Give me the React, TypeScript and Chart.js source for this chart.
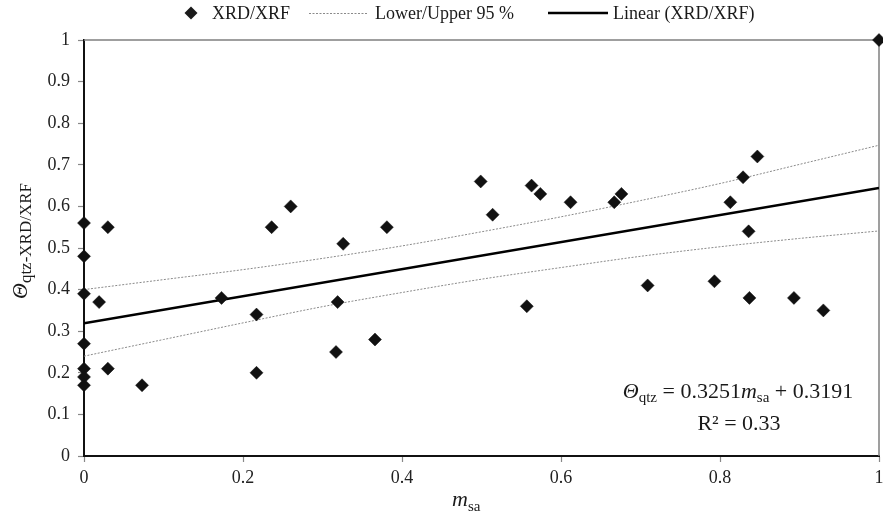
import React, { useEffect, useRef } from 'react';
import { Chart, registerables } from 'chart.js';

Chart.register(...registerables);

// Sand-quartz fraction vs. XRD/XRF quartz content
const msa = [
  0, 0, 0, 0, 0, 0, 0,
  0.019, 0.03, 0.03, 0.073,
  0.173, 0.217, 0.217, 0.236, 0.26,
  0.319, 0.317, 0.326, 0.366, 0.381,
  0.499, 0.514, 0.557, 0.563, 0.574, 0.612,
  0.667, 0.676, 0.709,
  0.793, 0.813, 0.829, 0.836, 0.837, 0.847,
  0.893, 0.93, 1,
];
const thetaQtz = [
  0.56, 0.48, 0.39, 0.27, 0.21, 0.19, 0.17,
  0.37, 0.55, 0.21, 0.17,
  0.38, 0.34, 0.2, 0.55, 0.6,
  0.37, 0.25, 0.51, 0.28, 0.55,
  0.66, 0.58, 0.36, 0.65, 0.63, 0.61,
  0.61, 0.63, 0.41,
  0.42, 0.61, 0.67, 0.54, 0.38, 0.72,
  0.38, 0.35, 1.0,
];

// Linear trend line (slope / intercept as printed)
const slope = 0.3251;
const intercept = 0.3191;
const rSquared = '0.33';
const fitX = [0, 1];

// 95 % confidence band
const bandX = [0, 0.1, 0.2, 0.3, 0.4, 0.5, 0.6, 0.7, 0.8, 0.9, 1];
const upper95 = [0.4, 0.424, 0.448, 0.475, 0.505, 0.539, 0.575, 0.614, 0.655, 0.701, 0.747];
const lower95 = [0.24, 0.28, 0.32, 0.359, 0.393, 0.425, 0.453, 0.48, 0.503, 0.523, 0.541];

const xStep = 0.2;
const yStep = 0.1;

const SERIF = '"Liberation Serif", "Times New Roman", serif';

type Seg = { text: string; size: number; italic?: boolean; dy?: number };

function segFont(s: Seg) {
  return `${s.italic ? 'italic ' : ''}${s.size}px ${SERIF}`;
}

function measureSegs(ctx: CanvasRenderingContext2D, segs: Seg[]) {
  let w = 0;
  for (const s of segs) {
    ctx.font = segFont(s);
    w += ctx.measureText(s.text).width;
  }
  return w;
}

function drawSegs(ctx: CanvasRenderingContext2D, segs: Seg[], x: number, y: number) {
  let cx = x;
  for (const s of segs) {
    ctx.font = segFont(s);
    ctx.fillText(s.text, cx, y + (s.dy || 0));
    cx += ctx.measureText(s.text).width;
  }
}

// tick values as plain decimals: 0, 0.1, ..., 1
const fmtTick = (v: number | string) => String(Number(Number(v).toFixed(1)));

const decorPlugin = {
  id: 'decor',
  beforeDatasetsDraw(chart: any) {
    const { ctx, chartArea: a } = chart;
    ctx.save();
    ctx.strokeStyle = '#808080';
    ctx.lineWidth = 1.5;
    ctx.beginPath();
    ctx.moveTo(a.left, a.top);
    ctx.lineTo(a.right, a.top);
    ctx.lineTo(a.right, a.bottom);
    ctx.stroke();
    ctx.restore();
  },
  afterDraw(chart: any) {
    const { ctx } = chart;
    ctx.save();
    ctx.fillStyle = '#1a1a1a';
    ctx.textAlign = 'left';
    ctx.textBaseline = 'alphabetic';

    // legend
    const ly = 13;
    ctx.beginPath();
    ctx.moveTo(191, ly - 6.5);
    ctx.lineTo(197.5, ly);
    ctx.lineTo(191, ly + 6.5);
    ctx.lineTo(184.5, ly);
    ctx.closePath();
    ctx.fill();
    ctx.font = `18px ${SERIF}`;
    ctx.fillText('XRD/XRF', 212, ly + 6);

    ctx.strokeStyle = '#8a8a8a';
    ctx.lineWidth = 1;
    ctx.setLineDash([2, 1.5]);
    ctx.beginPath();
    ctx.moveTo(309, ly + 0.5);
    ctx.lineTo(367, ly + 0.5);
    ctx.stroke();
    ctx.setLineDash([]);
    ctx.fillText('Lower/Upper 95 %', 375, ly + 6);

    ctx.strokeStyle = '#000';
    ctx.lineWidth = 2.5;
    ctx.beginPath();
    ctx.moveTo(548, ly);
    ctx.lineTo(608, ly);
    ctx.stroke();
    ctx.fillText('Linear (XRD/XRF)', 613, ly + 6);

    // regression equation
    const eq: Seg[] = [
      { text: 'Θ', size: 22, italic: true },
      { text: 'qtz', size: 15, dy: 4 },
      { text: ' = 0.3251', size: 22 },
      { text: 'm', size: 22, italic: true },
      { text: 'sa', size: 15, dy: 4 },
      { text: ' + 0.3191', size: 22 },
    ];
    const eqW = measureSegs(ctx, eq);
    drawSegs(ctx, eq, 738 - eqW / 2, 398);
    const r2: Seg[] = [{ text: `R² = ${rSquared}`, size: 22 }];
    const r2W = measureSegs(ctx, r2);
    drawSegs(ctx, r2, 739 - r2W / 2, 430);

    // x-axis title
    drawSegs(ctx, [
      { text: 'm', size: 22, italic: true },
      { text: 'sa', size: 15, dy: 5 },
    ], 452, 506);

    // y-axis title
    ctx.translate(27, 299);
    ctx.rotate(-Math.PI / 2);
    drawSegs(ctx, [
      { text: 'Θ', size: 22, italic: true },
      { text: 'qtz-XRD/XRF', size: 17, dy: 4 },
    ], 0, 0);
    ctx.restore();
  },
};

export default function App() {
  const ref = useRef<HTMLCanvasElement | null>(null);

  useEffect(() => {
    if (!ref.current) return;
    const tickFont = { family: SERIF, size: 18 };
    const chart = new Chart(ref.current, {
      type: 'scatter',
      data: {
        datasets: [
          {
            label: 'XRD/XRF',
            data: msa.map((x, i) => ({ x, y: thetaQtz[i] })),
            pointStyle: 'rectRot',
            pointRadius: 6.5,
            backgroundColor: '#111',
            borderColor: '#111',
            borderWidth: 0.5,
            clip: false,
          } as any,
          {
            label: 'Linear (XRD/XRF)',
            data: fitX.map((x) => ({ x, y: slope * x + intercept })),
            showLine: true,
            pointRadius: 0,
            borderColor: '#000',
            borderWidth: 2.5,
          },
          {
            label: 'Upper 95 %',
            data: bandX.map((x, i) => ({ x, y: upper95[i] })),
            showLine: true,
            pointRadius: 0,
            borderColor: '#8a8a8a',
            borderWidth: 1,
            borderDash: [2, 1.5],
            cubicInterpolationMode: 'monotone',
          },
          {
            label: 'Lower 95 %',
            data: bandX.map((x, i) => ({ x, y: lower95[i] })),
            showLine: true,
            pointRadius: 0,
            borderColor: '#8a8a8a',
            borderWidth: 1,
            borderDash: [2, 1.5],
            cubicInterpolationMode: 'monotone',
          },
        ],
      },
      options: {
        animation: false,
        responsive: false,
        devicePixelRatio: 1,
        layout: { autoPadding: false, padding: { top: 40, right: 4, left: 0, bottom: 0 } },
        plugins: { legend: { display: false }, tooltip: { enabled: false } },
        scales: {
          x: {
            type: 'linear',
            min: 0,
            max: 1,
            afterFit(s: any) {
              s.height = 67;
              s.paddingRight = 0;
              s.paddingLeft = 0;
            },
            ticks: { stepSize: xStep, font: tickFont, color: '#222', padding: 5, maxRotation: 0, callback: fmtTick },
            grid: { drawOnChartArea: false, tickLength: 6, tickColor: '#888', tickWidth: 1.2 },
            border: { color: '#111', width: 2 },
          },
          y: {
            type: 'linear',
            min: 0,
            max: 1,
            afterFit(s: any) {
              s.width = 84;
            },
            ticks: { stepSize: yStep, font: tickFont, color: '#222', padding: 8, callback: fmtTick },
            grid: { drawOnChartArea: false, tickLength: 6, tickColor: '#888', tickWidth: 1.2 },
            border: { color: '#111', width: 2 },
          },
        },
      } as any,
      plugins: [decorPlugin],
    });
    return () => chart.destroy();
  }, []);

  return (
    <div style={{ position: 'fixed', left: 0, top: 0, width: 883, height: 523, background: '#fff' }}>
      <canvas ref={ref} width={883} height={523} style={{ display: 'block', width: 883, height: 523 }} />
    </div>
  );
}
